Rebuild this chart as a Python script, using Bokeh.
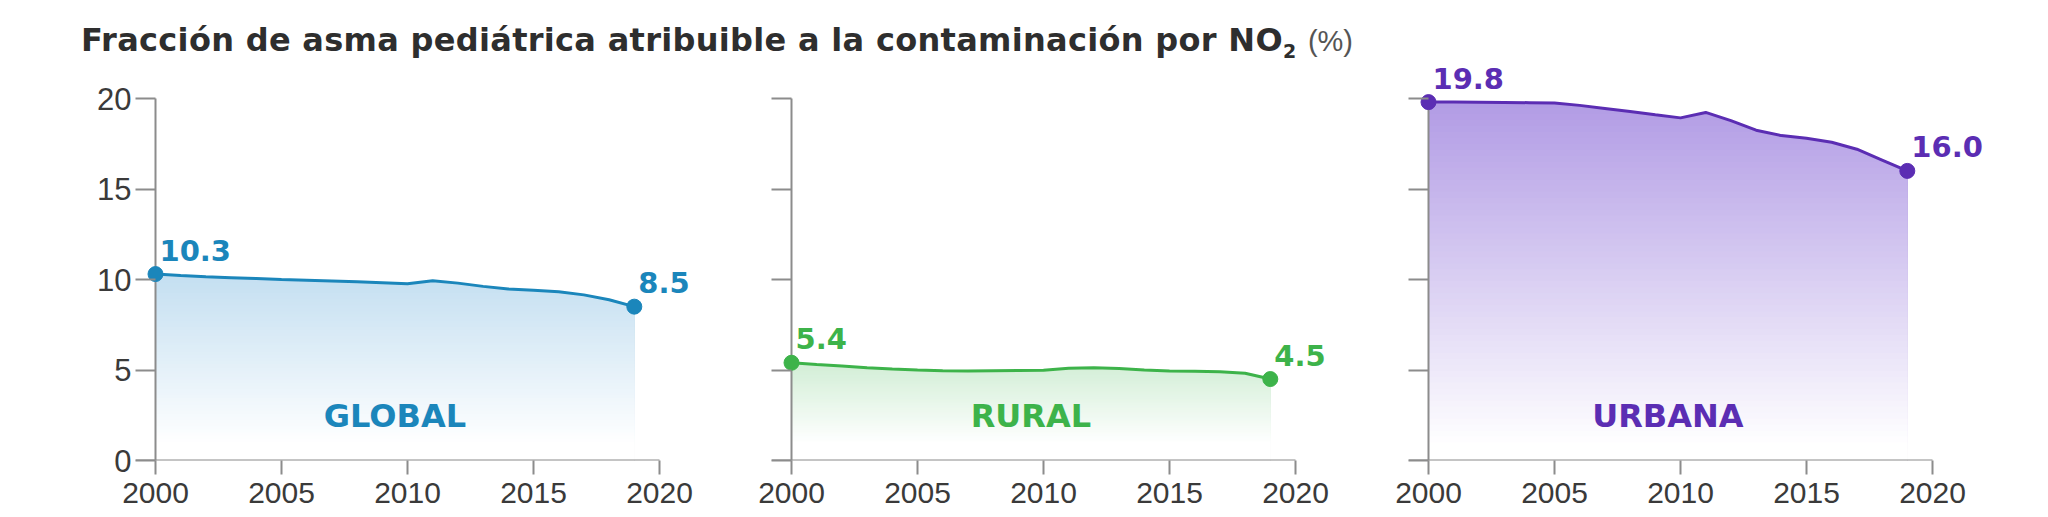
import numpy as np
from bokeh.plotting import figure
from bokeh.models import Div, FixedTicker, Range1d, CustomJSTickFormatter
from bokeh.layouts import row, column
from bokeh.embed import file_html
from bokeh.resources import INLINE
from bokeh.core.properties import value

# ---------------- data ----------------
YEARS = list(range(2000, 2020))
GLOBAL = [10.3, 10.22, 10.15, 10.1, 10.05, 10.0, 9.96, 9.92, 9.87, 9.82,
          9.76, 9.93, 9.8, 9.62, 9.48, 9.4, 9.32, 9.15, 8.88, 8.5]
RURAL = [5.4, 5.3, 5.22, 5.13, 5.06, 5.0, 4.96, 4.95, 4.96, 4.97,
         4.98, 5.1, 5.13, 5.08, 5.0, 4.95, 4.93, 4.9, 4.82, 4.5]
URBAN = [19.8, 19.8, 19.79, 19.78, 19.77, 19.75, 19.62, 19.45, 19.28, 19.1,
         18.93, 19.23, 18.78, 18.25, 17.95, 17.8, 17.58, 17.2, 16.6, 16.0]
NAMES = ["GLOBAL", "RURAL", "URBANA"]
START_LABELS = ["10.3", "5.4", "19.8"]
END_LABELS = ["8.5", "4.5", "16.0"]
X_TICKS = [2000, 2005, 2010, 2015, 2020]
Y_TICKS = [0, 5, 10, 15, 20]
TITLE = "Fracción de asma pediátrica atribuible a la contaminación por NO"
TITLE_SUB = "2"
TITLE_UNIT = "(%)"

# ---------------- styles ----------------
LINE_COLORS = ["#1b86bb", "#3db34a", "#5b2db3"]
FILL_TOPS = ["#c4dff1", "#d2eed6", "#b29ce5"]
GRAY = "#8c8c8c"
TICK_TEXT = "#3a3a3a"
TICK_FONT = "Liberation Sans"
PX_YEAR = 25.2
PX_UNIT = 18.1
TICK_Y = 20
TITLE_H = 60
FRAME_H = 400
BOTTOM_H = 57
Y_WHITE = 1.0
N_BANDS = 60
CAT_Y = 2.45
PANELS = [(135, 575), (61, 575), (62, 630)]  # (left border, frame width)


def mix(hex_color, t):
    r, g, b = (int(hex_color[i:i + 2], 16) for i in (1, 3, 5))
    r = round(255 + (r - 255) * t)
    g = round(255 + (g - 255) * t)
    b = round(255 + (b - 255) * t)
    return "#%02x%02x%02x" % (r, g, b)


def panel(i, vals):
    mbl, fw = PANELS[i]
    x_start = X_TICKS[0] - TICK_Y / PX_YEAR
    p = figure(frame_width=fw, frame_height=FRAME_H,
               x_range=Range1d(x_start, x_start + fw / PX_YEAR),
               y_range=Range1d(0, FRAME_H / PX_UNIT),
               output_backend="svg", toolbar_location=None,
               min_border_left=mbl, min_border_right=0, min_border_top=0,
               min_border_bottom=BOTTOM_H, margin=0)
    p.outline_line_color = None
    p.grid.visible = False
    p.background_fill_color = "white"
    p.border_fill_color = "white"

    v = np.array(vals)
    top = v.max()
    for k in range(N_BANDS, 0, -1):
        hi = top * k / N_BANDS
        t = float(np.clip((hi - Y_WHITE) / (top - Y_WHITE), 0, 1))
        p.varea(x=YEARS, y1=0, y2=np.minimum(v, hi),
                fill_color=mix(FILL_TOPS[i], t), fill_alpha=1.0)

    # axis lines
    p.segment(x0=[x_start, X_TICKS[0]], y0=[Y_TICKS[0], Y_TICKS[0]],
              x1=[X_TICKS[-1], X_TICKS[0]], y1=[Y_TICKS[0], Y_TICKS[-1]],
              line_color=GRAY, line_width=2)

    c = LINE_COLORS[i]
    p.line(YEARS, vals, line_color=c, line_width=3)
    p.scatter([YEARS[0], YEARS[-1]], [vals[0], vals[-1]], size=15,
              fill_color=c, line_color=c)
    p.text(x=[YEARS[0], YEARS[-1]], y=[vals[0], vals[-1]],
           text=[START_LABELS[i], END_LABELS[i]],
           text_font=value("DejaVu Sans"), text_font_style="bold",
           text_font_size="29px", text_color=c, x_offset=4, y_offset=-24,
           text_align="left", text_baseline="alphabetic")
    p.text(x=[(YEARS[0] + YEARS[-1]) / 2], y=[CAT_Y], text=[NAMES[i]],
           text_font=value("DejaVu Sans"), text_font_style="bold",
           text_font_size="32px", text_color=c,
           text_align="center", text_baseline="alphabetic")

    xa = p.xaxis[0]
    xa.ticker = FixedTicker(ticks=X_TICKS)
    xa.axis_line_color = None
    xa.major_tick_in = 0
    xa.major_tick_out = 14
    xa.minor_tick_line_color = None
    xa.major_tick_line_color = GRAY
    xa.major_tick_line_width = 2
    xa.major_label_text_font = TICK_FONT
    xa.major_label_text_font_size = "30px"
    xa.major_label_text_color = TICK_TEXT
    xa.major_label_standoff = 8

    ya = p.yaxis[0]
    ya.ticker = FixedTicker(ticks=Y_TICKS)
    ya.axis_line_color = None
    ya.major_tick_in = TICK_Y
    ya.major_tick_out = 0
    ya.minor_tick_line_color = None
    ya.major_tick_line_color = GRAY
    ya.major_tick_line_width = 2
    ya.major_label_text_font = TICK_FONT
    ya.major_label_text_font_size = "31px"
    ya.major_label_text_color = TICK_TEXT
    ya.major_label_standoff = 4
    if i > 0:
        ya.formatter = CustomJSTickFormatter(code="return ''")
    return p


plots = [panel(i, vals) for i, vals in enumerate([GLOBAL, RURAL, URBAN])]

title_html = (
    '<div style="position:absolute; top:23px; left:81px; font-family:\'DejaVu Sans\'; '
    'font-weight:bold; font-size:32px; letter-spacing:0.3px; line-height:1.1; '
    'color:#2e2e2e; white-space:nowrap;">'
    + TITLE +
    '<span style="font-size:19px; position:relative; top:7px;">' + TITLE_SUB + '</span> '
    '<span style="font-family:\'Liberation Sans\'; '
    'font-weight:normal; letter-spacing:0; color:#555; font-size:29px;">'
    + TITLE_UNIT + '</span></div>'
)
title = Div(text=title_html, width=1600, height=TITLE_H, margin=0,
            styles={"overflow": "visible", "position": "relative"})

layout = column(title, row(*plots, margin=0, spacing=0), margin=0, spacing=0)
open("out.html", "w").write(file_html(layout, INLINE))
